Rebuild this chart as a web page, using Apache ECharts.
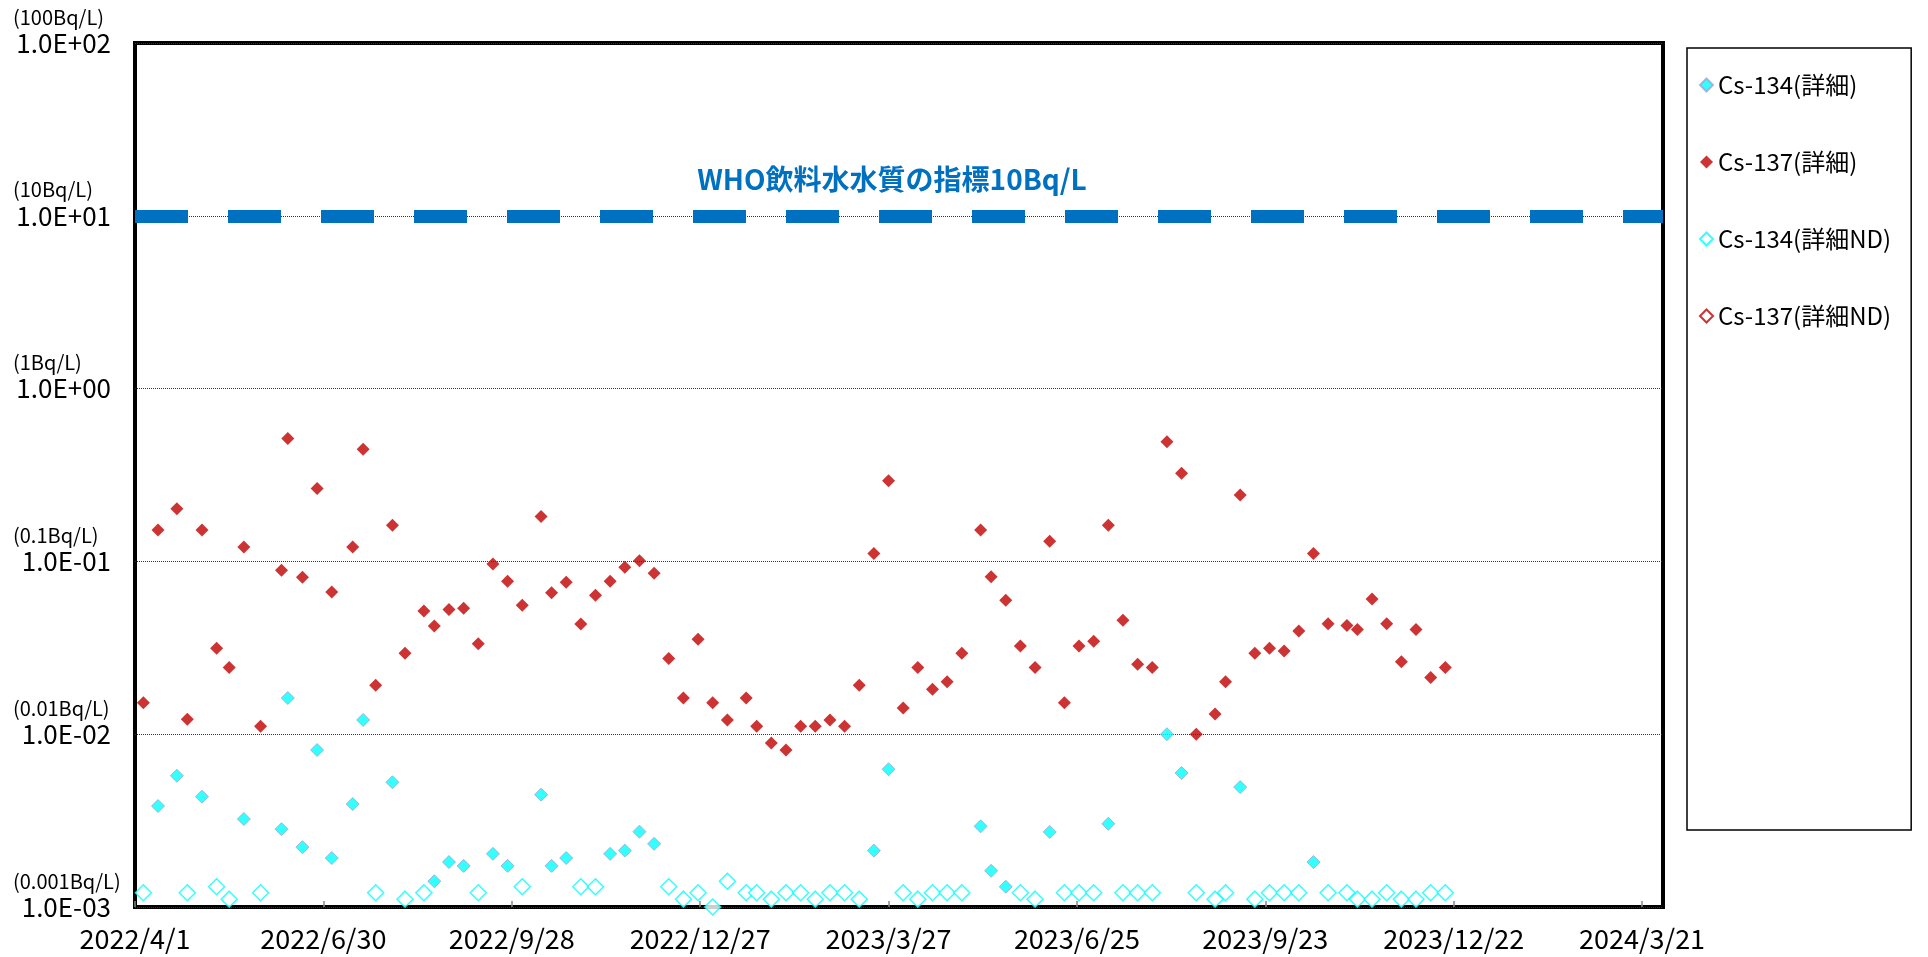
<!DOCTYPE html>
<html>
<head>
<meta charset="utf-8">
<script src="https://cdn.jsdelivr.net/npm/echarts@6/dist/echarts.min.js"></script>
<style>
  html, body { margin: 0; padding: 0; background: #fff; }
  #chart { width: 1928px; height: 957px; }
</style>
</head>
<body>
<div id="chart"></div>
<script>
// 横軸の範囲
var startDate = '2022/4/1';
var endDate = '2024/3/31';
var tickDays = 90;

// 採水日
var sampleDates = [
  '2022/4/5', '2022/4/12', '2022/4/21', '2022/4/26', '2022/5/3', '2022/5/10', '2022/5/16', '2022/5/23', '2022/5/31', '2022/6/10',
  '2022/6/13', '2022/6/20', '2022/6/27', '2022/7/4', '2022/7/14', '2022/7/19', '2022/7/25', '2022/8/2', '2022/8/8', '2022/8/17',
  '2022/8/22', '2022/8/29', '2022/9/5', '2022/9/12', '2022/9/19', '2022/9/26', '2022/10/3', '2022/10/12', '2022/10/17', '2022/10/24',
  '2022/10/31', '2022/11/7', '2022/11/14', '2022/11/21', '2022/11/28', '2022/12/5', '2022/12/12', '2022/12/19', '2022/12/26', '2023/1/2',
  '2023/1/9', '2023/1/18', '2023/1/23', '2023/1/30', '2023/2/6', '2023/2/13', '2023/2/20', '2023/2/27', '2023/3/6', '2023/3/13',
  '2023/3/20', '2023/3/27', '2023/4/3', '2023/4/10', '2023/4/17', '2023/4/24', '2023/5/1', '2023/5/10', '2023/5/15', '2023/5/22',
  '2023/5/29', '2023/6/5', '2023/6/12', '2023/6/19', '2023/6/26', '2023/7/3', '2023/7/10', '2023/7/17', '2023/7/24', '2023/7/31',
  '2023/8/7', '2023/8/14', '2023/8/21', '2023/8/30', '2023/9/4', '2023/9/11', '2023/9/18', '2023/9/25', '2023/10/2', '2023/10/9',
  '2023/10/16', '2023/10/23', '2023/11/1', '2023/11/6', '2023/11/13', '2023/11/20', '2023/11/27', '2023/12/4', '2023/12/11', '2023/12/18'
];

// Cs-137 (Bq/L)
var cs137 = [
  0.0152, 0.152, 0.202, 0.0122, 0.152, 0.0314, 0.0243, 0.121, 0.0111, 0.0888,
  0.515, 0.0809, 0.264, 0.0665, 0.121, 0.445, 0.0192, 0.162, 0.0294, 0.0516,
  0.0423, 0.0526, 0.0535, 0.0334, 0.0966, 0.0767, 0.0557, 0.182, 0.0659, 0.0757,
  0.0434, 0.0637, 0.0767, 0.0925, 0.101, 0.0853, 0.0274, 0.0162, 0.0354, 0.0152,
  0.0121, 0.0162, 0.0111, 0.0089, 0.0081, 0.0111, 0.0111, 0.0121, 0.0111, 0.0192,
  0.111, 0.293, 0.0142, 0.0243, 0.0182, 0.0201, 0.0294, 0.152, 0.0816, 0.0596,
  0.0324, 0.0243, 0.131, 0.0152, 0.0324, 0.0345, 0.162, 0.0456, 0.0254, 0.0243,
  0.493, 0.324, 0.0100, 0.0131, 0.0201, 0.242, 0.0294, 0.0314, 0.0303, 0.0395,
  0.111, 0.0436, 0.0425, 0.0404, 0.0606, 0.0436, 0.0263, 0.0404, 0.0213, 0.0243
];

// Cs-134 (Bq/L)、NDのときは検出下限値
var cs134 = [
  0.00121, 0.00384, 0.00575, 0.00121, 0.00435, 0.00131, 0.00111, 0.00323, 0.00121, 0.00282,
  0.0162, 0.00222, 0.0081, 0.00192, 0.00394, 0.0121, 0.00121, 0.00527, 0.00111, 0.00121,
  0.00141, 0.00182, 0.00173, 0.00121, 0.00203, 0.00173, 0.00131, 0.00447, 0.00173, 0.00192,
  0.00131, 0.00131, 0.00203, 0.00212, 0.00273, 0.00232, 0.00131, 0.00111, 0.00121, 0.00100,
  0.00141, 0.00121, 0.00121, 0.00111, 0.00121, 0.00121, 0.00111, 0.00121, 0.00121, 0.00111,
  0.00212, 0.00627, 0.00121, 0.00111, 0.00121, 0.00121, 0.00121, 0.00293, 0.00162, 0.00131,
  0.00121, 0.00111, 0.00272, 0.00121, 0.00121, 0.00121, 0.00303, 0.00121, 0.00121, 0.00121,
  0.0100, 0.00596, 0.00121, 0.00111, 0.00121, 0.00494, 0.00111, 0.00121, 0.00121, 0.00121,
  0.00182, 0.00121, 0.00121, 0.00111, 0.00111, 0.00121, 0.00111, 0.00111, 0.00121, 0.00121
];

// Cs-134 ND判定 (1 = ND)
var cs134ND = [
  1, 0, 0, 1, 0, 1, 1, 0, 1, 0,
  0, 0, 0, 0, 0, 0, 1, 0, 1, 1,
  0, 0, 0, 1, 0, 0, 1, 0, 0, 0,
  1, 1, 0, 0, 0, 0, 1, 1, 1, 1,
  1, 1, 1, 1, 1, 1, 1, 1, 1, 1,
  0, 0, 1, 1, 1, 1, 1, 0, 0, 0,
  1, 1, 0, 1, 1, 1, 0, 1, 1, 1,
  0, 0, 1, 1, 1, 0, 1, 1, 1, 1,
  0, 1, 1, 1, 1, 1, 1, 1, 1, 1
];

// 縦軸の目盛ラベル（単位表記）
var yUnitLabels = {
  '2': '(100Bq/L)',
  '1': '(10Bq/L)',
  '0': '(1Bq/L)',
  '-1': '(0.1Bq/L)',
  '-2': '(0.01Bq/L)',
  '-3': '(0.001Bq/L)'
};

var whoLimit = 10;
var whoLabel = 'WHO飲料水水質の指標10Bq/L';
var seriesNames = ['Cs-134(詳細)', 'Cs-137(詳細)', 'Cs-134(詳細ND)', 'Cs-137(詳細ND)'];

var FONT = '"Noto Sans CJK JP", "Noto Sans", sans-serif';

function parseDate(s) {
  var p = s.split('/');
  return Date.UTC(+p[0], +p[1] - 1, +p[2]);
}
var base = parseDate(startDate);
function toDay(s) {
  return Math.round((parseDate(s) - base) / 86400000);
}
function dayLabel(d) {
  var t = new Date(base + d * 86400000);
  return t.getUTCFullYear() + '/' + (t.getUTCMonth() + 1) + '/' + t.getUTCDate();
}

var cs134Det = [], cs134Nd = [], cs137Det = [];
for (var i = 0; i < sampleDates.length; i++) {
  var d = toDay(sampleDates[i]);
  cs137Det.push([d, cs137[i]]);
  if (cs134ND[i]) cs134Nd.push([d, cs134[i]]);
  else cs134Det.push([d, cs134[i]]);
}

var myChart = echarts.init(document.getElementById('chart'));

var option = {
  backgroundColor: '#fff',
  animation: false,
  textStyle: { fontFamily: FONT },
  grid: {
    left: 135,
    right: 265,
    top: 43,
    bottom: 50,
    show: true,
    borderColor: '#000',
    borderWidth: 4,
    backgroundColor: 'transparent'
  },
  legend: {
    orient: 'vertical',
    left: 1687,
    top: 48,
    padding: [25, 20, 502, 12],
    itemGap: 53,
    itemWidth: 13,
    itemHeight: 13,
    borderColor: '#000',
    borderWidth: 1.5,
    textStyle: { fontSize: 24, color: '#000', fontFamily: FONT },
    data: seriesNames
  },
  xAxis: {
    type: 'value',
    min: 0,
    max: toDay(endDate),
    interval: tickDays,
    axisLine: { show: false },
    axisTick: { show: true, inside: true, length: 6, lineStyle: { color: '#888', width: 1.5 } },
    splitLine: { show: false },
    axisLabel: {
      showMaxLabel: false,
      margin: 18,
      fontSize: 27,
      color: '#000',
      fontFamily: FONT,
      formatter: function (v) { return dayLabel(v); }
    }
  },
  yAxis: {
    type: 'log',
    logBase: 10,
    min: 0.001,
    max: 100,
    axisLine: { show: false },
    axisTick: { show: false },
    splitLine: { show: true, lineStyle: { color: '#333', type: 'dotted', width: 1 } },
    axisLabel: {
      margin: 24,
      align: 'right',
      fontFamily: FONT,
      formatter: function (v) {
        var e = Math.round(Math.log10(v));
        var s = '1.0E' + (e < 0 ? '-' : '+') + (Math.abs(e) < 10 ? '0' : '') + Math.abs(e);
        return '{u|' + yUnitLabels[String(e)] + '}\n{v|' + s + '}\n{u| }';
      },
      rich: {
        u: { fontSize: 20, lineHeight: 26, width: 98, align: 'left', color: '#000', fontFamily: FONT },
        v: { fontSize: 26, lineHeight: 26, width: 98, align: 'right', color: '#000', fontFamily: FONT }
      }
    }
  },
  series: [
    {
      name: seriesNames[0],
      type: 'scatter',
      symbol: 'diamond',
      symbolSize: 13,
      itemStyle: { color: '#00FFFF', borderColor: '#9AA6D6', borderWidth: 1 },
      data: cs134Det,
      z: 3
    },
    {
      name: seriesNames[1],
      type: 'scatter',
      symbol: 'diamond',
      symbolSize: 13,
      itemStyle: { color: '#C00000' },
      data: cs137Det,
      z: 3,
      markLine: {
        silent: true,
        symbol: ['none', 'none'],
        lineStyle: { color: '#0070C0', width: 13, type: [53, 40] },
        label: {
          show: true,
          position: 'insideMiddleTop',
          distance: 22,
          padding: [0, 14, 0, 0],
          formatter: whoLabel,
          color: '#0070C0',
          fontSize: 28,
          fontWeight: 'bold',
          fontFamily: FONT
        },
        data: [{ yAxis: whoLimit }]
      }
    },
    {
      name: seriesNames[2],
      type: 'scatter',
      symbol: 'diamond',
      symbolSize: 16,
      itemStyle: { color: '#fff', borderColor: '#00FFFF', borderWidth: 1.5 },
      data: cs134Nd,
      z: 2
    },
    {
      name: seriesNames[3],
      type: 'scatter',
      symbol: 'diamond',
      symbolSize: 16,
      itemStyle: { color: '#fff', borderColor: '#C00000', borderWidth: 1.5 },
      data: [],
      z: 2
    }
  ]
};

myChart.setOption(option);
</script>
</body>
</html>
